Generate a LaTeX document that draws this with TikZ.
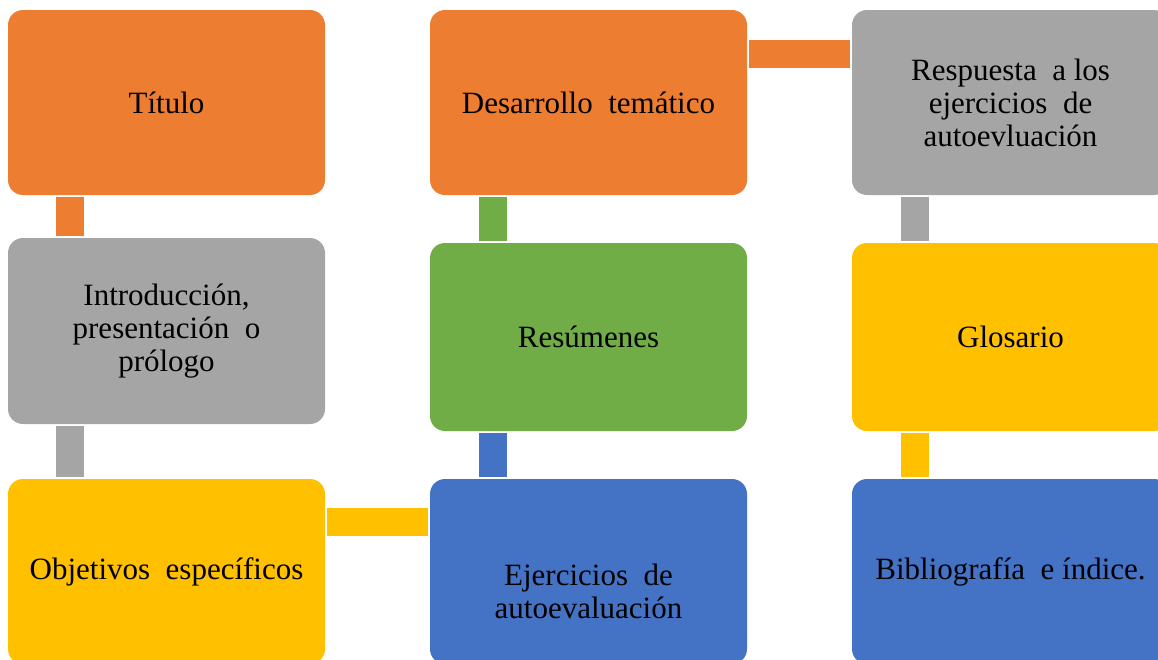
\documentclass[tikz,border=0pt]{standalone}
\usepackage{fontspec}
\setmainfont{Liberation Serif}
\usetikzlibrary{positioning}

\definecolor{naranja}{HTML}{ED7D31}
\definecolor{gris}{HTML}{A5A5A5}
\definecolor{amarillo}{HTML}{FFC000}
\definecolor{azul}{HTML}{4472C4}
\definecolor{verde}{HTML}{70AD47}

\begin{document}
\begin{tikzpicture}[x=1pt, y=-1pt,
        caja/.style={rectangle, rounded corners=15pt, minimum width=317pt,
            minimum height=185pt, align=center, text=black,
            font=\fontsize{31}{33}\selectfont},
        barra/.style={line width=28pt, shorten <=2pt, shorten >=2pt}]
        \useasboundingbox (0, 0) rectangle (1158, 659);
        \clip (0, 0) rectangle (1158, 659);
        \node[caja, fill=naranja] (tit) at (166.5, 102.5) {Título};
        \node[caja, fill=gris, minimum height=186pt] (intro) at (166.5, 331)
            {Introducción,\\presentación\ \ o\\prólogo};
        \node[caja, fill=amarillo] (obj) at (166.5, 571.5) {Objetivos\ \ específicos};
        \node[caja, fill=naranja] (des) at (588.5, 102.5) {Desarrollo\ \ temático};
        \node[caja, fill=verde, minimum height=188pt] (res) at (588.5, 337) {Resúmenes};
        \node[caja, fill=azul] (ejer) at (588.5, 571.5)
            {\raisebox{-24pt}[\height][\depth]{\begin{tabular}{@{}c@{}}Ejercicios\ \ de\\autoevaluación\end{tabular}}};
        \node[caja, fill=gris] (resp) at (1010.5, 102.5)
            {Respuesta\ \ a los\\ejercicios\ \ de\\autoevluación};
        \node[caja, fill=amarillo, minimum height=188pt] (glos) at (1010.5, 337) {Glosario};
        \node[caja, fill=azul] (bib) at (1010.5, 571.5) {Bibliografía\ \ e índice.};
        % barras entre cajas
        \draw[barra, naranja] ([xshift=62.5pt] tit.south west) -- ([xshift=62.5pt] intro.north west);
        \draw[barra, gris] ([xshift=62.5pt] intro.south west) -- ([xshift=62.5pt] obj.north west);
        \draw[barra, amarillo] ([yshift=-43.5pt] obj.north east) -- ([yshift=-43.5pt] ejer.north west);
        \draw[barra, azul] ([xshift=63pt] ejer.north west) -- ([xshift=63pt] res.south west);
        \draw[barra, verde] ([xshift=63pt] res.north west) -- ([xshift=63pt] des.south west);
        \draw[barra, naranja] ([yshift=-44.5pt] des.north east) -- ([yshift=-44.5pt] resp.north west);
        \draw[barra, gris] ([xshift=63.5pt] resp.south west) -- ([xshift=63.5pt] glos.north west);
        \draw[barra, amarillo] ([xshift=63.5pt] glos.south west) -- ([xshift=63.5pt] bib.north west);
    \end{tikzpicture}
\end{document}
